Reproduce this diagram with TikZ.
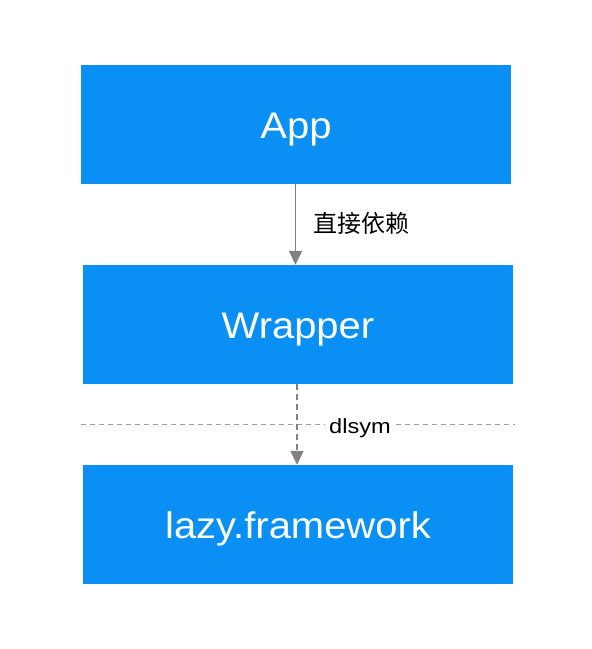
\documentclass[tikz,border=0pt]{standalone}
\usepackage{fontspec}
\setmainfont{Liberation Sans}
\newfontfamily\boxfont{Liberation Sans}[FakeStretch=1.08]
\newfontfamily\lblfont{Liberation Sans}[FakeStretch=1.15]
\newfontfamily\cjk{Noto Sans CJK SC}
\usetikzlibrary{arrows.meta}
\definecolor{boxblue}{RGB}{10,143,245}
\definecolor{arrowgray}{RGB}{128,128,128}
\definecolor{linegray}{RGB}{160,160,160}
\begin{document}
\begin{tikzpicture}[x=1pt,y=-1pt,
  layerbox/.style={fill=boxblue,draw=none,minimum width=430pt,minimum height=119pt,inner sep=0pt,
    text=white,text height=27pt,text depth=0pt,font=\boxfont\fontsize{37}{40}\selectfont},
  conn/.style={draw=arrowgray,line width=1.8pt,-{Triangle[length=14pt,width=13pt]}},
  dconn/.style={conn,dash pattern=on 6pt off 4pt},
  lbl/.style={inner sep=2pt,text=black}
]
\useasboundingbox (0,0) rectangle (592,649);
\node[layerbox] (app) at (296,124.5) {App};
\node[layerbox] (wrap) at (298,324.5) {Wrapper};
\node[layerbox] (lazy) at (298,524.5) {lazy.framework};
\coordinate (dl) at (81,424);
\coordinate (dr) at (515,424);
\draw[linegray,line width=0.9pt,dash pattern=on 5pt off 4pt] (dl) -- (dr);
\draw[conn] (app.south -| 295.5,0) -- (wrap.north -| 295.5,0);
\draw[dconn] (wrap.south -| 297,0) -- (lazy.north -| 297,0);
\node[lbl,font=\cjk\fontsize{24}{26}\selectfont] (l1) at (361,223.5) {直接依赖};
\node[lbl,fill=white,inner xsep=4pt,text height=15pt,text depth=0pt,font=\lblfont\fontsize{20.5}{24}\selectfont] (l2) at (360,425.5) {dlsym};
\end{tikzpicture}
\end{document}
